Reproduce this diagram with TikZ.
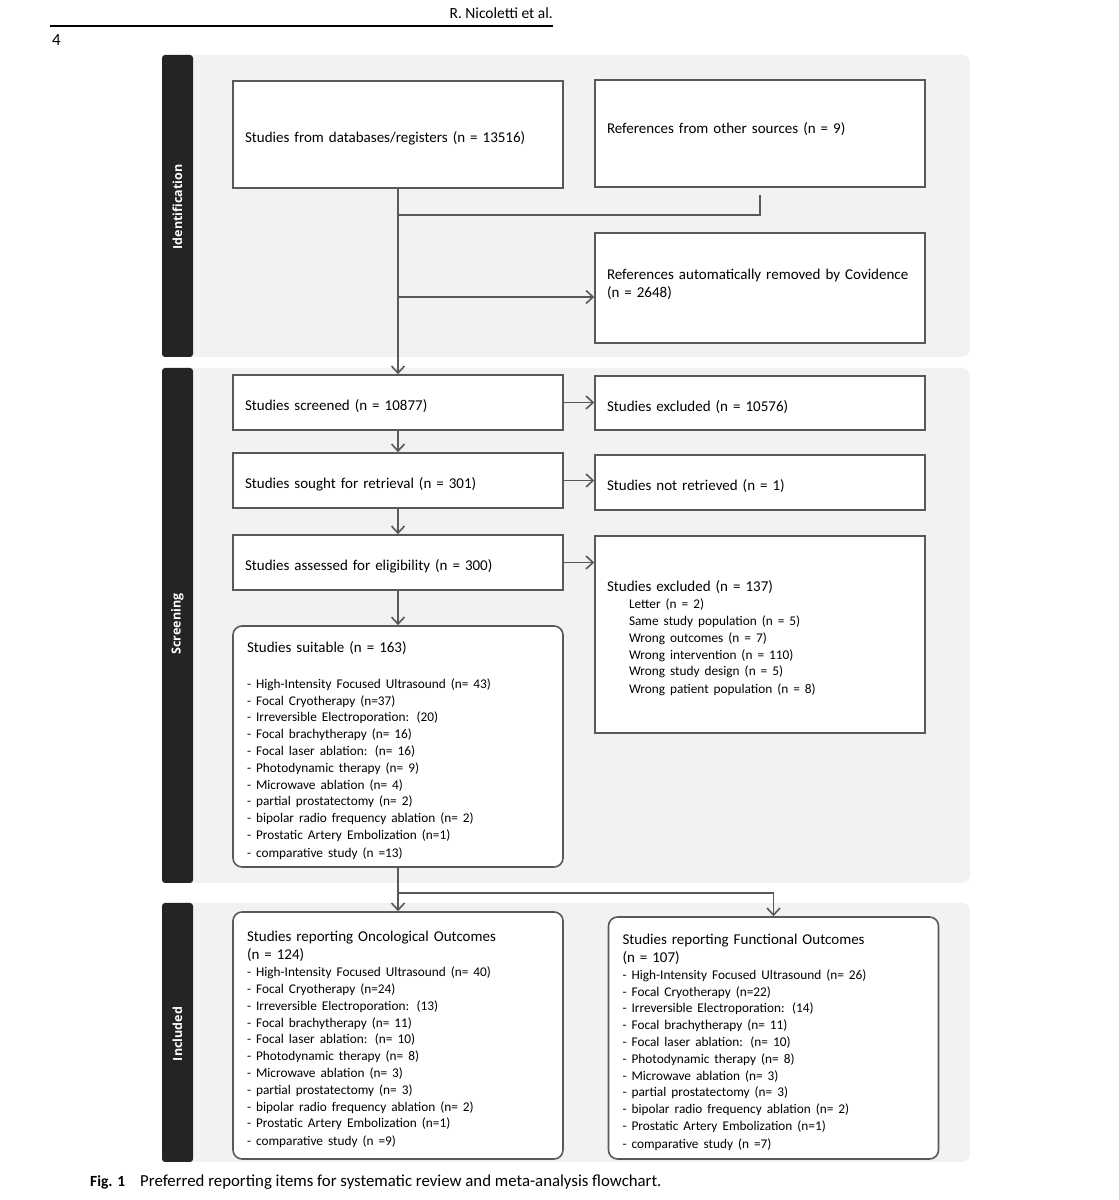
\documentclass[tikz,border=0pt]{standalone}
\usepackage{fontspec}
\setmainfont{Carlito}
\newfontfamily\bandfont{Open Sans}
\usetikzlibrary{arrows.meta}

\definecolor{drawColor}{RGB}{89,89,89}
\definecolor{panelColor}{RGB}{242,242,242}
\definecolor{barColor}{RGB}{36,36,36}

\newcommand{\itemfont}{\fontsize{13.3}{16.8}\selectfont}
\newcommand{\ind}{\hspace*{22pt}}

\tikzset{
  stagebox/.style={draw=drawColor,line width=1.6pt,fill=white,inner xsep=12pt,inner ysep=0pt,
    text width=306pt,align=left,minimum height=#1,font=\fontsize{15}{18}\selectfont,
    execute at begin node={\rule{0pt}{19pt}}},
  listbox/.style={stagebox=#1,rounded corners=9pt,inner xsep=14pt,text width=302pt},
  flowarrow/.style={draw=drawColor,line width=1.6pt,-{Straight Barb[length=7pt,width=13pt]}},
  flowline/.style={draw=drawColor,line width=1.6pt},
  bandlabel/.style={text=white,rotate=90,inner sep=0pt,font=\bandfont\bfseries\fontsize{12.5}{14}\selectfont},
}

\begin{document}
\begin{tikzpicture}[x=1pt,y=1pt]
\path[use as bounding box,fill=white] (0,0) rectangle (1119,1200);

% running head
\begin{scope}
\node[anchor=base east,inner sep=0pt,font=\fontsize{15.5}{18}\selectfont] (runhead) at (553,1181) {R. Nicoletti et al.};
\path[draw=black,line width=2.6pt] (50,1174) -- (553,1174);
\node[anchor=base west,inner sep=0pt,font=\fontsize{17}{20}\selectfont] (pageno) at (52,1154) {4};
\end{scope}

% stage panels
\begin{scope}
\path[fill=panelColor,rounded corners=8pt] (170,843) rectangle (970,1145);
\path[fill=panelColor,rounded corners=8pt] (170,317) rectangle (970,832);
\path[fill=panelColor,rounded corners=8pt] (170, 38) rectangle (970,297);
\path[fill=barColor,rounded corners=3pt] (162,843) rectangle (193,1145);
\path[fill=barColor,rounded corners=3pt] (162,317) rectangle (193,832);
\path[fill=barColor,rounded corners=3pt] (162, 38) rectangle (193,297);
\node[bandlabel] (identlab) at (177.5,993) {Identification};
\node[bandlabel] (screenlab) at (177.5,576) {Screening};
\node[bandlabel] (inclab) at (177.5,166) {Included};
\end{scope}

% boxes
\node[stagebox=107pt] (dbs) at (398,1065.5) {Studies from databases/registers (n = 13516)};
\node[stagebox=107pt] (other) at (760,1066.5) {References from other sources (n = 9)\\ \mbox{}};
\node[stagebox=110pt] (autorem) at (760,912) {References automatically removed by Covidence\\(n = 2648)\\ \mbox{}};

\node[stagebox=55pt] (screened) at (398,797.5) {Studies screened (n = 10877)};
\node[stagebox=54pt] (excl1) at (760,797) {Studies excluded (n = 10576)};
\node[stagebox=55pt] (sought) at (398,719.5) {Studies sought for retrieval (n = 301)};
\node[stagebox=55pt] (notretr) at (760,717.5) {Studies not retrieved (n = 1)};
\node[stagebox=55pt] (assessed) at (398,637.5) {Studies assessed for eligibility (n = 300)};
\node[stagebox=197pt] (excl2) at (760,565.5) {Studies excluded (n = 137)\\ \itemfont
  \ind Letter (n = 2)\\
  \ind Same study population (n = 5)\\
  \ind Wrong outcomes (n = 7)\\
  \ind Wrong intervention (n = 110)\\
  \ind Wrong study design (n = 5)\\
  \ind Wrong patient population (n = 8)};

\node[listbox=241pt] (suitable) at (398,453.5) {Studies suitable (n = 163)\\[19pt] \itemfont
  - High-Intensity Focused Ultrasound (n= 43)\\
  - Focal Cryotherapy (n=37)\\
  - Irreversible Electroporation: (20)\\
  - Focal brachytherapy (n= 16)\\
  - Focal laser ablation: (n= 16)\\
  - Photodynamic therapy (n= 9)\\
  - Microwave ablation (n= 4)\\
  - partial prostatectomy (n= 2)\\
  - bipolar radio frequency ablation (n= 2)\\
  - Prostatic Artery Embolization (n=1)\\
  - comparative study (n =13)};

\node[listbox=247pt] (onco) at (398,164.5) {Studies reporting Oncological Outcomes\\(n = 124)\\ \itemfont
  - High-Intensity Focused Ultrasound (n= 40)\\
  - Focal Cryotherapy (n=24)\\
  - Irreversible Electroporation: (13)\\
  - Focal brachytherapy (n= 11)\\
  - Focal laser ablation: (n= 10)\\
  - Photodynamic therapy (n= 8)\\
  - Microwave ablation (n= 3)\\
  - partial prostatectomy (n= 3)\\
  - bipolar radio frequency ablation (n= 2)\\
  - Prostatic Artery Embolization (n=1)\\
  - comparative study (n =9)};

\node[listbox=242pt] (func) at (773.5,162) {Studies reporting Functional Outcomes\\(n = 107)\\ \itemfont
  - High-Intensity Focused Ultrasound (n= 26)\\
  - Focal Cryotherapy (n=22)\\
  - Irreversible Electroporation: (14)\\
  - Focal brachytherapy (n= 11)\\
  - Focal laser ablation: (n= 10)\\
  - Photodynamic therapy (n= 8)\\
  - Microwave ablation (n= 3)\\
  - partial prostatectomy (n= 3)\\
  - bipolar radio frequency ablation (n= 2)\\
  - Prostatic Artery Embolization (n=1)\\
  - comparative study (n =7)};

% connectors
\coordinate (joinOther) at (398,985);
\coordinate (toRemoved) at (398,903);
\coordinate (split) at (398,307);
\draw[flowarrow] (dbs.south) -- (screened.north);
\draw[flowline] ([yshift=-7pt]other.south) |- (joinOther);
\draw[flowarrow] (toRemoved) -- (toRemoved -| autorem.west);
\draw[flowarrow] (screened.east) -- (screened.east -| excl1.west);
\draw[flowarrow] (screened.south) -- (sought.north);
\draw[flowarrow] (sought.east) -- (sought.east -| notretr.west);
\draw[flowarrow] (sought.south) -- (assessed.north);
\draw[flowarrow] (assessed.east) -- (assessed.east -| excl2.west);
\draw[flowarrow] (assessed.south) -- (suitable.north);
\draw[flowline] (suitable.south) -- (split);
\draw[flowarrow] (split) -- (onco.north);
\draw[flowarrow] (split) -| (func.north);

% caption
\node[anchor=base west,inner sep=0pt,font=\bfseries\fontsize{15.5}{18}\selectfont] (figtag) at (90,13) {Fig. 1};
\node[anchor=base west,inner sep=0pt,font=\fontsize{16.8}{19}\selectfont] (figcap) at (140,13) {Preferred reporting items for systematic review and meta-analysis flowchart.};
\end{tikzpicture}
\end{document}
